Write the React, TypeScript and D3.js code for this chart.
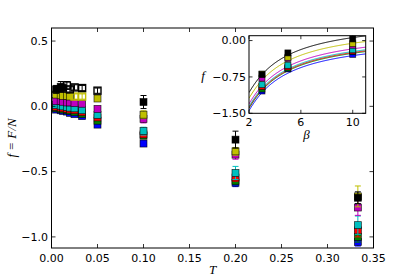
import React from "react";
import * as d3 from "d3";

// temperatures (main plot x)
const temps = [0.005, 0.01, 0.0125, 0.0167, 0.02, 0.025, 0.0333, 0.05, 0.1, 0.2, 0.333];

const seriesNames = ["k", "y", "m", "c", "r", "g", "b"];
const seriesColors = ["#000000", "#bfbf00", "#bf00bf", "#00bfbf", "#ff0000", "#008000", "#0000ff"];

const fBlack = [0.13, 0.15, 0.14, 0.16, 0.13, 0.145, 0.14, 0.12, 0.033, -0.255, -0.70];
const eBlack = [0.03, 0.04, 0.03, 0.03, 0.02, 0.02, 0.02, 0.02, 0.05, 0.065, 0.045];
const fYellow = [0.09, 0.085, 0.08, 0.08, 0.075, 0.075, 0.075, 0.06, -0.064, -0.345, -0.69];
const eYellow = [0.02, 0.02, 0.02, 0.02, 0.02, 0.02, 0.02, 0.02, 0.03, 0.03, 0.08];
const fMagenta = [0.04, 0.04, 0.035, 0.03, 0.03, 0.025, 0.02, -0.02, -0.097, -0.37, -0.775];
const eMagenta = [0.02, 0.02, 0.02, 0.02, 0.02, 0.02, 0.02, 0.02, 0.03, 0.035, 0.06];
const fCyan = [0.01, 0.005, 0.0, -0.005, -0.01, -0.015, -0.03, -0.065, -0.19, -0.51, -0.91];
const eCyan = [0.015, 0.015, 0.015, 0.015, 0.015, 0.015, 0.015, 0.02, 0.03, 0.05, 0.07];
const fRed = [-0.005, -0.01, -0.015, -0.02, -0.025, -0.03, -0.045, -0.085, -0.215, -0.545, -0.95];
const eRed = [0.015, 0.015, 0.015, 0.015, 0.015, 0.015, 0.015, 0.02, 0.02, 0.03, 0.05];
const fGreen = [-0.015, -0.02, -0.025, -0.03, -0.035, -0.045, -0.06, -0.11, -0.225, -0.57, -1.0];
const eGreen = [0.015, 0.015, 0.015, 0.015, 0.015, 0.015, 0.015, 0.02, 0.02, 0.03, 0.04];
const fBlue = [-0.025, -0.03, -0.035, -0.04, -0.05, -0.06, -0.075, -0.14, -0.285, -0.585, -1.04];
const eBlue = [0.015, 0.015, 0.015, 0.015, 0.015, 0.015, 0.015, 0.02, 0.02, 0.03, 0.03];

// hollow markers (index into temps)
const openBlack = [3, 4, 5, 6, 7];
const openYellow = [5, 6];

// inset fit curves: f(beta) = A + B/beta + C/beta^2
const fitA = [0.475, 0.358, 0.242, 0.188, 0.168, 0.151, 0.103];
const fitB = -4.4;
const fitC = 2.61;
// inset points at beta = 1/T for these temps
const insetBetas = [3, 5, 10];

const mainXTicks = [0, 0.05, 0.1, 0.15, 0.2, 0.25, 0.3, 0.35];
const mainYTicks = [0.5, 0.0, -0.5, -1.0];
const mainYTickLabels = ["0.5", "0.0", "\u22120.5", "\u22121.0"];
const insetXTicks = [2, 6, 10];
const insetYTicks = [0, -0.75, -1.5];
const insetYTickLabels = ["0.00", "\u22120.75", "\u22121.50"];

const values = [fBlack, fYellow, fMagenta, fCyan, fRed, fGreen, fBlue];
const errors = [eBlack, eYellow, eMagenta, eCyan, eRed, eGreen, eBlue];
const opens = [openBlack, openYellow, [], [], [], [], []];

export default function App() {
  const W = 415, H = 277;
  const x = d3.scaleLinear().domain([0, 0.35]).range([51.5, 373.5]);
  const y = d3.scaleLinear().domain([0.6, -1.085]).range([28, 248]);
  const ix = d3.scaleLinear().domain([2, 11]).range([249, 365.7]);
  const iy = d3.scaleLinear().domain([0.1, -1.5]).range([35.7, 113.3]);
  const font = "'DejaVu Sans', sans-serif";
  const mathFont = "'Liberation Serif', 'DejaVu Serif', serif";
  const order = [6, 5, 4, 3, 2, 1, 0];
  const ms = 7;
  const ims = 6;

  const betaGrid = d3.range(2, 11.0001, 0.05);

  return (
    <svg width={W} height={H} style={{ position: "absolute", left: 0, top: 0, background: "#fff" }}>
      <rect x={0} y={0} width={W} height={H} fill="#fff" />
      {/* main data */}
      {order.map((si) => (
        <g key={seriesNames[si]}>
          {temps.map((t, i) => {
            const cx = x(t), cy = y(values[si][i]);
            const e = errors[si][i];
            const isOpen = (opens[si] as number[]).includes(i);
            return (
              <g key={i}>
                <line x1={cx} x2={cx} y1={y(values[si][i] + e)} y2={y(values[si][i] - e)} stroke={seriesColors[si]} strokeWidth={1} />
                <line x1={cx - 3} x2={cx + 3} y1={y(values[si][i] + e)} y2={y(values[si][i] + e)} stroke={seriesColors[si]} strokeWidth={1} />
                <line x1={cx - 3} x2={cx + 3} y1={y(values[si][i] - e)} y2={y(values[si][i] - e)} stroke={seriesColors[si]} strokeWidth={1} />
                {isOpen ? (
                  <rect x={cx - ms / 2} y={cy - ms / 2} width={ms} height={ms} fill="none" stroke={seriesColors[si]} strokeWidth={1.4} />
                ) : (
                  <rect x={cx - ms / 2} y={cy - ms / 2} width={ms} height={ms} fill={seriesColors[si]} stroke="#000" strokeWidth={0.7} strokeOpacity={0.8} />
                )}
              </g>
            );
          })}
        </g>
      ))}
      {/* main frame */}
      <rect x={51.5} y={28} width={322} height={220} fill="none" stroke="#000" strokeWidth={1} />
      {mainXTicks.map((t, i) => (
        <g key={"mx" + i}>
          <line x1={x(t)} x2={x(t)} y1={248} y2={244} stroke="#000" strokeWidth={0.8} />
          <line x1={x(t)} x2={x(t)} y1={28} y2={32} stroke="#000" strokeWidth={0.8} />
          <text x={x(t)} y={261.5} fontFamily={font} fontSize={11} textAnchor="middle">{t.toFixed(2)}</text>
        </g>
      ))}
      {mainYTicks.map((v, i) => (
        <g key={"my" + i}>
          <line x1={51.5} x2={55.5} y1={y(v)} y2={y(v)} stroke="#000" strokeWidth={0.8} />
          <line x1={373.5} x2={369.5} y1={y(v)} y2={y(v)} stroke="#000" strokeWidth={0.8} />
          <text x={48} y={y(v)} dy="0.35em" fontFamily={font} fontSize={11} textAnchor="end">{mainYTickLabels[i]}</text>
        </g>
      ))}
      <text x={212.7} y={274} fontFamily={mathFont} fontStyle="italic" fontSize={13} textAnchor="middle">T</text>
      <text transform={`translate(16,138) rotate(-90)`} fontFamily={mathFont} fontStyle="italic" fontSize={13} textAnchor="middle">f = F/N</text>

      {/* inset */}
      <rect x={249} y={35.7} width={116.7} height={77.6} fill="#fff" />
      <defs>
        <clipPath id="insetClip">
          <rect x={249} y={35.7} width={116.7} height={77.6} />
        </clipPath>
      </defs>
      <g clipPath="url(#insetClip)">
        {order.map((si) => (
          <path
            key={"c" + si}
            d={d3.line<number>().x((b) => ix(b)).y((b) => iy(fitA[si] + fitB / b + fitC / (b * b)))(betaGrid) || ""}
            fill="none"
            stroke={seriesColors[si]}
            strokeWidth={1}
          />
        ))}
      </g>
      {order.map((si) => (
        <g key={"ip" + si}>
          {insetBetas.map((b) => {
            const idx = temps.findIndex((t) => Math.abs(1 / t - b) < 0.1);
            const cx = ix(b), cy = iy(values[si][idx]);
            return <rect key={b} x={cx - ims / 2} y={cy - ims / 2} width={ims} height={ims} fill={seriesColors[si]} stroke="#000" strokeWidth={0.7} strokeOpacity={0.8} />;
          })}
        </g>
      ))}
      <rect x={249} y={35.7} width={116.7} height={77.6} fill="none" stroke="#000" strokeWidth={1} />
      {insetXTicks.map((b, i) => (
        <g key={"ix" + i}>
          <line x1={ix(b)} x2={ix(b)} y1={113.3} y2={109.8} stroke="#000" strokeWidth={0.8} />
          <line x1={ix(b)} x2={ix(b)} y1={35.7} y2={39.2} stroke="#000" strokeWidth={0.8} />
          <text x={ix(b)} y={125.5} fontFamily={font} fontSize={11} textAnchor="middle">{b}</text>
        </g>
      ))}
      {insetYTicks.map((v, i) => (
        <g key={"iy" + i}>
          <line x1={249} x2={252.5} y1={iy(v)} y2={iy(v)} stroke="#000" strokeWidth={0.8} />
          <line x1={365.7} x2={362.2} y1={iy(v)} y2={iy(v)} stroke="#000" strokeWidth={0.8} />
          <text x={246} y={iy(v)} dy="0.35em" fontFamily={font} fontSize={11} textAnchor="end">{insetYTickLabels[i]}</text>
        </g>
      ))}
      <text x={203} y={80} fontFamily={mathFont} fontStyle="italic" fontSize={13} textAnchor="middle">f</text>
      <text x={306.5} y={139} fontFamily={mathFont} fontStyle="italic" fontSize={13} textAnchor="middle">β</text>
    </svg>
  );
}
